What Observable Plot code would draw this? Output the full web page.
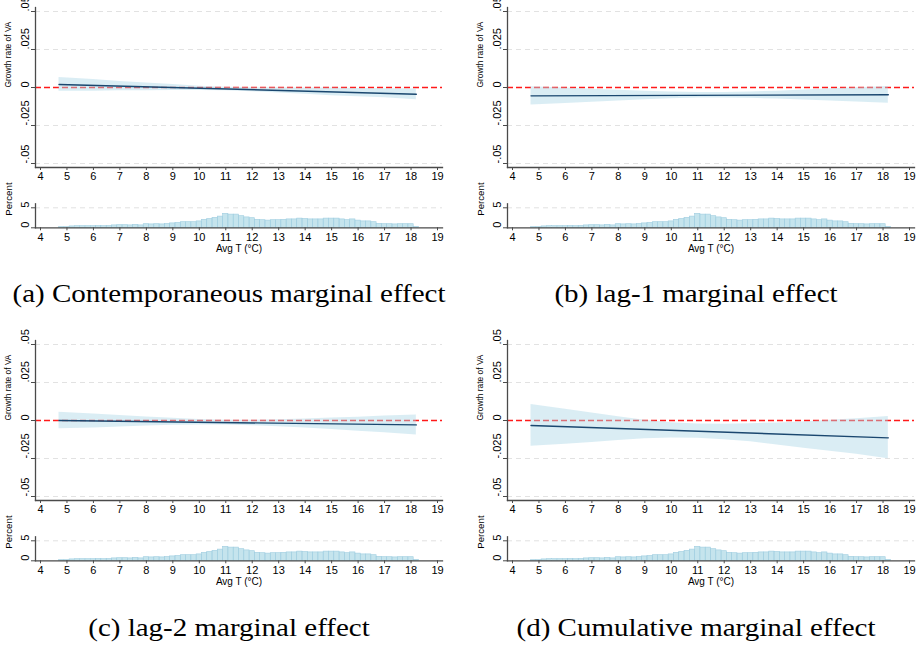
<!DOCTYPE html>
<html>
<head>
<meta charset="utf-8">
<script src="https://cdn.jsdelivr.net/npm/d3@7"></script>
<script src="https://cdn.jsdelivr.net/npm/@observablehq/plot@0.6"></script>
<style>
  html, body { margin: 0; padding: 0; background: #fff; overflow: hidden; }
  #page { position: relative; width: 917px; height: 657px; font-family: "Liberation Sans", Arial, sans-serif; }
  .box { position: absolute; }
  .box svg { display: block; overflow: visible; }
  .cap {
    position: absolute; white-space: nowrap; line-height: 1;
    font-family: "Liberation Serif", "Times New Roman", serif; font-size: 25px; color: #000;
    transform: translateX(-50%) scaleX(1.16);
  }
</style>
</head>
<body>
<div id="page"></div>
<script>
// Temperature grid (°C) at which the confidence bands are given
const tempGrid = [4.7, 6, 7, 8, 9, 10, 11, 12, 13, 14, 15, 16, 17, 18.2];
// Ends of the fitted marginal-effect lines
const lineTemps = [4.7, 18.2];

// (a) contemporaneous
const estA = [0.0020, -0.0044];
const lowA = [-0.0025, -0.0024, -0.0022, -0.0021, -0.0019, -0.0019, -0.0022, -0.0028, -0.0036, -0.0045, -0.0054, -0.0061, -0.0068, -0.0080];
const upA  = [0.0065, 0.0052, 0.0040, 0.0029, 0.0019, 0.0009, 0.0002, -0.0002, -0.0002, -0.0003, -0.0004, -0.0007, -0.0008, -0.0010];

// (b) lag-1
const estB = [-0.0055, -0.0048];
const lowB = [-0.0115, -0.0105, -0.0097, -0.0088, -0.0080, -0.0074, -0.0069, -0.0069, -0.0071, -0.0076, -0.0082, -0.0089, -0.0095, -0.0103];
const upB  = [0.0005, -0.0003, -0.0011, -0.0018, -0.0024, -0.0030, -0.0033, -0.0033, -0.0029, -0.0024, -0.0016, -0.0009, -0.0001, 0.0007];

// (c) lag-2
const estC = [0.0000, -0.0029];
const lowC = [-0.0055, -0.0049, -0.0043, -0.0037, -0.0032, -0.0029, -0.0030, -0.0034, -0.0041, -0.0050, -0.0060, -0.0070, -0.0081, -0.0095];
const upC  = [0.0055, 0.0043, 0.0033, 0.0023, 0.0014, 0.0007, 0.0002, 0.0002, 0.0005, 0.0010, 0.0016, 0.0022, 0.0029, 0.0037];

// (d) cumulative
const estD = [-0.0033, -0.0114];
const lowD = [-0.0169, -0.0156, -0.0145, -0.0131, -0.0120, -0.0115, -0.0117, -0.0127, -0.0140, -0.0162, -0.0182, -0.0203, -0.0222, -0.0252];
const upD  = [0.0105, 0.0074, 0.0049, 0.0025, 0.0001, -0.0015, -0.0023, -0.0024, -0.0021, -0.0016, -0.0010, 0.0001, 0.0012, 0.0026];

// Distribution of average temperature (percent per 0.2 °C bin, first bin starts at 4.7)
const histStart = 4.7;
const histBinWidth = 0.2;
const histPct = [0.15, 0.15, 0.35, 0.4, 0.4, 0.4, 0.4, 0.45, 0.4, 0.45,
                 0.6, 0.65, 0.65, 0.6, 0.75, 0.6, 0.9, 0.85, 0.9, 0.85,
                 0.95, 1.1, 1.2, 1.4, 1.4, 1.4, 1.6, 2.0, 2.2, 2.5,
                 2.8, 3.5, 3.3, 3.3, 2.9, 2.6, 2.4, 2.0, 1.9, 1.8,
                 1.9, 1.9, 2.0, 2.1, 2.1, 2.3, 2.2, 2.1, 2.1, 2.1,
                 2.3, 2.3, 2.3, 2.1, 1.9, 2.1, 1.8, 1.6, 1.6, 1.4,
                 1.0, 0.9, 0.9, 0.85, 0.9, 0.9, 0.9, 0.25];

// Axis ticks and labels
const xTicks = [4, 5, 6, 7, 8, 9, 10, 11, 12, 13, 14, 15, 16, 17, 18, 19];
const yTicks = [-0.05, -0.025, 0, 0.025, 0.05];
const yTickLabels = ["-.05", "-.025", "0", ".025", ".05"];
const yGrid = [-0.05, -0.025, 0.025, 0.05];
const histTicks = [0, 5];
const histTickLabels = ["0", "5"];
const yTitle = "Growth rate of VA";
const histTitle = "Percent";
const xTitle = "Avg T (°C)";

const captions = [
  "(a) Contemporaneous marginal effect",
  "(b) lag-1 marginal effect",
  "(c) lag-2 marginal effect",
  "(d) Cumulative marginal effect"
];

const series = [
  {est: estA, low: lowA, up: upA},
  {est: estB, low: lowB, up: upB},
  {est: estC, low: lowC, up: upC},
  {est: estD, low: lowD, up: upD}
];

// Layout of the 2x2 grid
const cells = [
  {left: 0,   top: 0,   width: 460, capX: 229, capTop: 281},
  {left: 472, top: 0,   width: 445, capX: 696, capTop: 281},
  {left: 0,   top: 333, width: 460, capX: 229, capTop: 615},
  {left: 472, top: 333, width: 445, capX: 696, capTop: 615}
];

const axisColor = "#4a4a4a";
const gridStyle = {stroke: "#e2e2e2", strokeDasharray: "5,4", strokeWidth: 1};
const font = "'Liberation Sans', Arial, sans-serif";
const frameRight = 442;

function mainChart(s, cell) {
  const band = tempGrid.map((t, i) => ({t, lo: s.low[i], hi: s.up[i]}));
  const line = lineTemps.map((t, i) => ({t, v: s.est[i]}));
  return Plot.plot({
    width: cell.width, height: 185,
    marginLeft: 35, marginRight: cell.width - frameRight, marginTop: 7, marginBottom: 18,
    style: {fontFamily: font, fontSize: "11px", color: "#000", background: "transparent"},
    x: {domain: [4, 19], insetLeft: 5, insetRight: 5},
    y: {domain: [-0.05, 0.05], insetTop: 4, insetBottom: 4},
    marks: [
      Plot.ruleY(yGrid, gridStyle),
      Plot.ruleY([0], {stroke: "#ff1a1a", strokeDasharray: "6,3", strokeWidth: 1.3}),
      Plot.areaY(band, {x: "t", y1: "lo", y2: "hi", fill: "#add8e6", fillOpacity: 0.45}),
      Plot.lineY(line, {x: "t", y: "v", stroke: "#1a476f", strokeWidth: 1.4}),
      Plot.axisX({ticks: xTicks, tickSize: 3, tickPadding: 2, label: null, stroke: axisColor, fill: "#000"}),
      Plot.axisY({ticks: yTicks, tickSize: 4, tickFormat: () => "", label: null, stroke: axisColor}),
      Plot.text(yTicks, {y: d => d, text: (d, i) => yTickLabels[i], frameAnchor: "left", dx: -10, rotate: -90, fill: "#000"}),
      Plot.text([yTitle], {frameAnchor: "left", dx: -27, rotate: -90, fontSize: 8.4, fill: "#000"}),
      Plot.frame({anchor: "left", stroke: axisColor, strokeWidth: 1.3}),
      Plot.frame({anchor: "bottom", stroke: axisColor, strokeWidth: 1.3})
    ]
  });
}

function histChart(cell) {
  const bins = histPct.map((p, i) => ({x0: histStart + i * histBinWidth, x1: histStart + (i + 1) * histBinWidth, pct: p}));
  return Plot.plot({
    width: cell.width, height: 62,
    marginLeft: 35, marginRight: cell.width - frameRight, marginTop: 7.3, marginBottom: 30.7,
    style: {fontFamily: font, fontSize: "11px", color: "#000", background: "transparent"},
    x: {domain: [4, 19], insetLeft: 5, insetRight: 5},
    y: {domain: [0, 6]},
    marks: [
      Plot.ruleY([5], gridStyle),
      Plot.rect(bins, {x1: "x0", x2: "x1", y1: 0, y2: "pct", fill: "#add8e6", fillOpacity: 0.7, stroke: "#9fcde0", strokeWidth: 0.6}),
      Plot.axisX({ticks: xTicks, tickSize: 3, tickPadding: 2, label: null, stroke: axisColor, fill: "#000"}),
      Plot.axisY({ticks: histTicks, tickSize: 4, tickFormat: () => "", label: null, stroke: axisColor}),
      Plot.text(histTicks, {y: d => d, text: (d, i) => histTickLabels[i], frameAnchor: "left", dx: -10, rotate: -90, fill: "#000"}),
      Plot.text([histTitle], {frameAnchor: "left", dx: -27, rotate: -90, fontSize: 9.7, fill: "#000"}),
      Plot.text([xTitle], {frameAnchor: "bottom", dy: 24, fontSize: 10, fill: "#000"}),
      Plot.frame({anchor: "left", stroke: axisColor, strokeWidth: 1.3}),
      Plot.frame({anchor: "bottom", stroke: axisColor, strokeWidth: 1.3})
    ]
  });
}

const page = document.getElementById("page");
series.forEach((s, k) => {
  const cell = cells[k];
  const main = document.createElement("div");
  main.className = "box";
  main.style.left = cell.left + "px";
  main.style.top = cell.top + "px";
  main.appendChild(mainChart(s, cell));
  page.appendChild(main);

  const hist = document.createElement("div");
  hist.className = "box";
  hist.style.left = cell.left + "px";
  hist.style.top = (cell.top + 196) + "px";
  hist.appendChild(histChart(cell));
  page.appendChild(hist);

  const cap = document.createElement("div");
  cap.className = "cap";
  cap.style.left = cell.capX + "px";
  cap.style.top = cell.capTop + "px";
  cap.textContent = captions[k];
  page.appendChild(cap);
});
</script>
</body>
</html>
